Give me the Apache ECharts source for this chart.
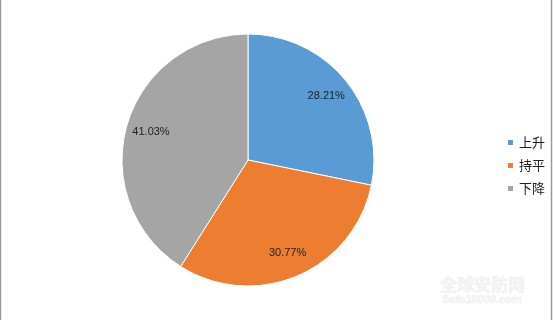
<!DOCTYPE html>
<html>
<head>
<meta charset="utf-8">
<script src="https://cdn.jsdelivr.net/npm/echarts@6/dist/echarts.min.js"></script>
<style>
html,body{margin:0;padding:0;background:#fff;}
#c{width:553px;height:320px;}
</style>
</head>
<body>
<div id="c"></div>
<script>
var categories = ['上升', '持平', '下降'];
var shares = [28.21, 30.77, 41.03];
var colors = ['#5B9BD5', '#ED7D31', '#A5A5A5'];

var pieData = categories.map(function (n, i) {
  return { name: n, value: shares[i], itemStyle: { color: colors[i] } };
});

var chart = echarts.init(document.getElementById('c'), null, { renderer: 'canvas' });
chart.setOption({
  backgroundColor: '#ffffff',
  animation: false,
  legend: {
    orient: 'vertical',
    left: 501,
    top: 131,
    itemWidth: 7,
    itemHeight: 7,
    itemGap: 10,
    icon: 'rect',
    data: categories,
    textStyle: { fontFamily: 'Noto Sans CJK SC', fontSize: 13, color: '#222' },
    selectedMode: false
  },
  series: [
    {
      type: 'pie',
      center: [248, 160],
      radius: [0, 126],
      startAngle: 90,
      clockwise: true,
      silent: true,
      label: { show: false },
      labelLine: { show: false },
      itemStyle: { borderColor: '#ffffff', borderWidth: 1 },
      data: pieData
    },
    {
      type: 'pie',
      center: [248, 160],
      radius: [70, 126],
      startAngle: 90,
      clockwise: true,
      silent: true,
      itemStyle: { color: 'rgba(0,0,0,0)', borderWidth: 0 },
      label: {
        show: true,
        position: 'inside',
        formatter: function (p) { return p.value.toFixed(2) + '%'; },
        fontFamily: 'Liberation Sans',
        fontSize: 11,
        color: '#1f1f1f'
      },
      labelLine: { show: false },
      data: categories.map(function (n, i) { return { name: n, value: shares[i] }; })
    }
  ],
  graphic: [
    { type: 'line', shape: { x1: 0.5, y1: 0, x2: 0.5, y2: 320 }, style: { stroke: '#9a9a9a', lineWidth: 1.5 } },
    { type: 'line', shape: { x1: 551.5, y1: 0, x2: 551.5, y2: 320 }, style: { stroke: '#9a9a9a', lineWidth: 1.5 } },
    { type: 'text', left: 440, top: 276, style: { text: '全球安防网', font: 'bold 17px "Noto Sans CJK SC"', fill: '#f3f3f3', stroke: '#e8e8e8', lineWidth: 0.5 } },
    { type: 'text', left: 442, top: 294, style: { text: 'Safe10000.com', font: 'bold 11px "Liberation Sans"', fill: '#f3f3f3', stroke: '#e8e8e8', lineWidth: 0.5 } }
  ]
});
</script>
</body>
</html>
